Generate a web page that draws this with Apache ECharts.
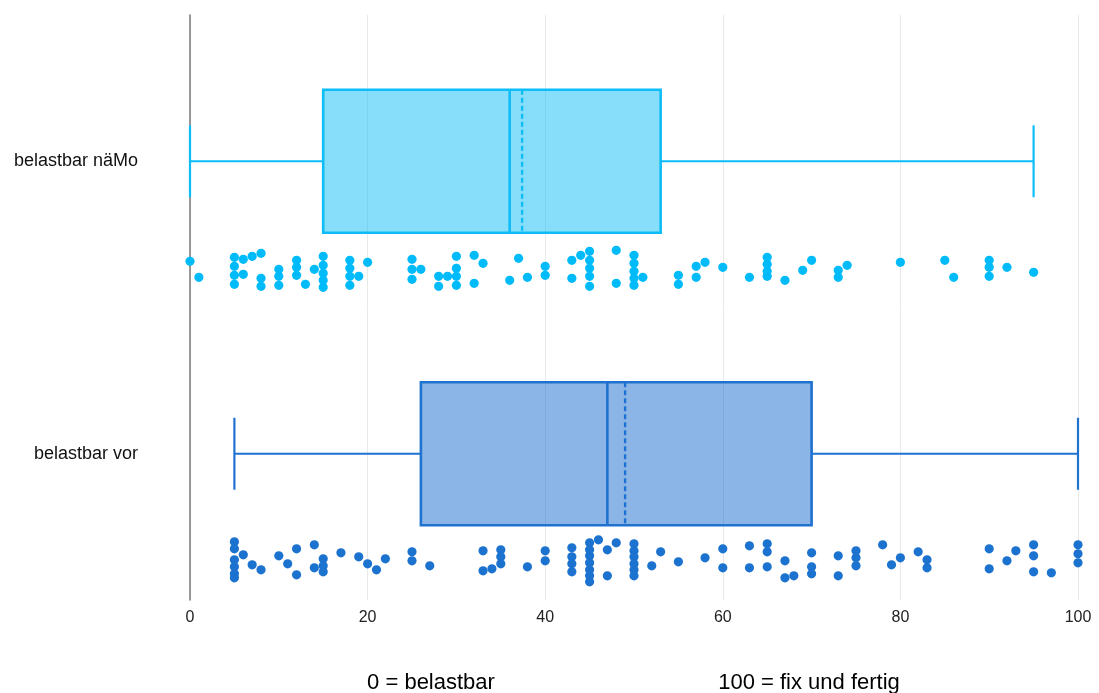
<!DOCTYPE html>
<html>
<head>
<meta charset="utf-8">
<script src="https://cdn.jsdelivr.net/npm/echarts@6/dist/echarts.min.js"></script>
<style>html,body{margin:0;padding:0;background:#fff}#c{width:1099px;height:693px}</style>
</head>
<body>
<div id="c"></div>
<script>
// ---------- data ----------
var categories = ['belastbar vor', 'belastbar näMo'];
var xTicks = [0, 20, 40, 60, 80, 100];
var scaleNotes = ['0 = belastbar', '100 = fix und fertig'];
// box statistics: [min, Q1, median, Q3, max]
var boxVor  = [5, 26, 47, 70, 100];
var boxNaMo = [0, 15, 36, 53, 95];
var meanVor = 49;
var meanNaMo = 37.4;
// individual responses (value) and their vertical jitter
var namoValues = [0,1,5,5,5,5,6,6,7,8,8,8,10,10,10,12,12,12,13,14,15,15,15,15,15,18,18,18,18,19,20,25,25,25,26,28,28,29,30,30,30,30,32,32,33,36,37,38,40,40,43,43,44,45,45,45,45,45,48,48,50,50,50,50,50,51,55,55,57,57,58,60,63,65,65,65,65,67,69,70,73,73,74,80,85,86,90,90,90,92,95];
var namoJitter = [-7,9,-11,-2,7,16,-9,6,-12,-15,10,18,1,8,17,-8,-1,7,16,1,-12,-3,5,12,19,-8,0,8,17,8,-6,-9,1,11,1,8,18,8,-12,0,8,17,-13,15,-5,12,-10,9,-2,7,-8,10,-13,-17,-8,0,8,18,-18,15,-13,-5,3,10,17,9,7,16,-2,9,-6,-1,9,-11,-4,3,8,12,2,-8,2,9,-3,-6,-8,9,-8,-1,8,-1,4];
var vorValues = [5,5,5,5,5,5,6,7,8,10,11,12,12,14,14,15,15,15,17,19,20,21,22,25,25,27,33,33,34,35,35,35,38,40,40,43,43,43,43,45,45,45,45,45,45,45,46,47,47,48,50,50,50,50,50,50,52,53,55,58,60,60,63,63,65,65,65,67,67,68,70,70,70,73,73,75,75,75,78,79,80,82,83,83,90,90,92,93,95,95,95,97,100,100,100];
var vorJitter = [-19,-12,-1,6,13,17,-6,4,9,-5,3,-12,14,-16,7,-2,5,11,-8,-4,3,9,-2,-9,0,5,-10,10,8,-11,-4,3,6,-10,0,-13,-4,3,11,-18,-11,-5,2,9,15,21,-21,-11,15,-18,-17,-10,-4,3,9,15,5,-9,1,-3,-12,7,-15,7,-17,-9,6,0,17,15,-8,6,13,-5,15,-10,-3,5,-16,4,-3,-9,-1,7,-12,8,0,-10,-16,-5,11,12,-16,-7,2];

// ---------- styling ----------
var FONT = '"Liberation Sans", Arial, Helvetica, sans-serif';
var colNaMo = '#0DBDF7', fillNaMo = 'rgba(13,189,247,0.5)', dotNaMo = '#00BBF9';
var colVor = '#2072D0', fillVor = 'rgba(32,114,208,0.52)', dotVor = '#1C72CF';

function boxRender(stats, mean, color, fill) {
  return function (params, api) {
    var cat = api.value(0);
    var c = function (v) { return api.coord([v, cat]); };
    var band = api.size([0, 1])[1];
    var hb = band * 0.2445, hc = band * 0.123;
    var pMin = c(stats[0]), pQ1 = c(stats[1]), pMed = c(stats[2]), pQ3 = c(stats[3]), pMax = c(stats[4]), pMean = c(mean);
    var y = pMed[1];
    var ls = {stroke: color, lineWidth: 2.2};
    return {
      type: 'group',
      children: [
        {type: 'line', shape: {x1: pMin[0], y1: y, x2: pQ1[0], y2: y}, style: ls},
        {type: 'line', shape: {x1: pQ3[0], y1: y, x2: pMax[0], y2: y}, style: ls},
        {type: 'line', shape: {x1: pMin[0], y1: y - hc, x2: pMin[0], y2: y + hc}, style: ls},
        {type: 'line', shape: {x1: pMax[0], y1: y - hc, x2: pMax[0], y2: y + hc}, style: ls},
        {type: 'rect', shape: {x: pQ1[0], y: y - hb, width: pQ3[0] - pQ1[0], height: 2 * hb},
          style: {fill: fill, stroke: color, lineWidth: 2.6}},
        {type: 'line', shape: {x1: pMed[0], y1: y - hb, x2: pMed[0], y2: y + hb}, style: {stroke: color, lineWidth: 2.6}},
        {type: 'line', shape: {x1: pMean[0], y1: y - hb, x2: pMean[0], y2: y + hb},
          style: {stroke: color, lineWidth: 2.4, lineDash: [5, 3]}}
      ]
    };
  };
}

function dotRender(color) {
  return function (params, api) {
    var p = api.coord([api.value(0), api.value(1)]);
    var band = api.size([0, 1])[1];
    var y = p[1] + band * 0.366 + api.value(2) * band / 292.5;
    return {type: 'circle', shape: {cx: p[0], cy: y, r: 4.6}, style: {fill: color}};
  };
}

function dots(values, jitter, catIdx) {
  return values.map(function (v, i) { return [v, catIdx, jitter[i]]; });
}

var chart = echarts.init(document.getElementById('c'), null, {renderer: 'canvas'});
chart.setOption({
  animation: false,
  backgroundColor: '#ffffff',
  textStyle: {fontFamily: FONT},
  grid: {left: 190, right: 21, top: 15, bottom: 93, containLabel: false},
  xAxis: {
    type: 'value', min: xTicks[0], max: xTicks[xTicks.length - 1], interval: 20,
    axisLine: {show: false}, axisTick: {show: false},
    splitLine: {show: true, lineStyle: {color: '#e9e9e9', width: 1}},
    axisLabel: {color: '#222', fontSize: 16, margin: 10, fontFamily: FONT}
  },
  yAxis: {
    type: 'category', data: categories,
    axisLine: {show: true, lineStyle: {color: '#777', width: 1.5}},
    axisTick: {show: false},
    axisLabel: {color: '#111', fontSize: 18, margin: 52, fontFamily: FONT},
    splitLine: {show: false}
  },
  graphic: [
    {type: 'text', style: {text: scaleNotes[0], x: 431, y: 683, fill: '#000', font: '22px ' + FONT, textAlign: 'center', textVerticalAlign: 'middle'}},
    {type: 'text', style: {text: scaleNotes[1], x: 809, y: 683, fill: '#000', font: '22px ' + FONT, textAlign: 'center', textVerticalAlign: 'middle'}}
  ],
  series: [
    {type: 'custom', name: 'box näMo', renderItem: boxRender(boxNaMo, meanNaMo, colNaMo, fillNaMo), data: [[1]], encode: {y: 0}, z: 3},
    {type: 'custom', name: 'box vor', renderItem: boxRender(boxVor, meanVor, colVor, fillVor), data: [[0]], encode: {y: 0}, z: 3},
    {type: 'custom', name: 'dots näMo', renderItem: dotRender(dotNaMo), data: dots(namoValues, namoJitter, 1), encode: {x: 0, y: 1}, z: 4},
    {type: 'custom', name: 'dots vor', renderItem: dotRender(dotVor), data: dots(vorValues, vorJitter, 0), encode: {x: 0, y: 1}, z: 4}
  ]
});
</script>
</body>
</html>
